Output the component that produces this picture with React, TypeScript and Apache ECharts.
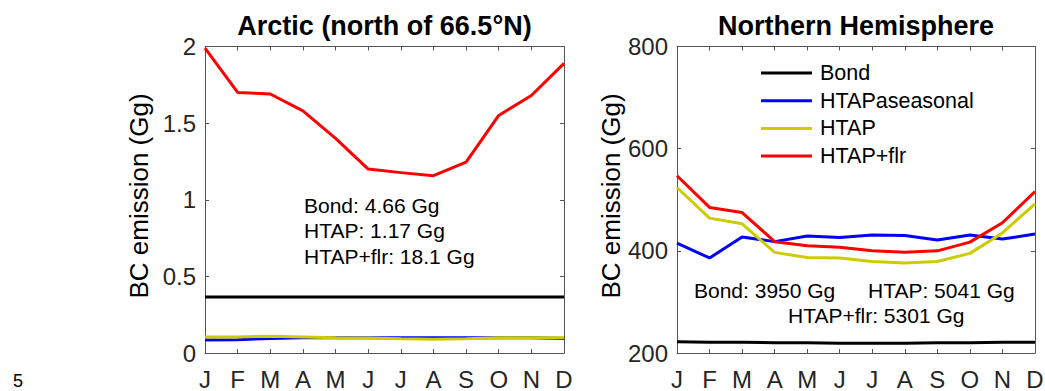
import React, { useEffect, useRef } from 'react';
import * as echarts from 'echarts';

const months = ['J', 'F', 'M', 'A', 'M', 'J', 'J', 'A', 'S', 'O', 'N', 'D'];
const seriesNames = ['Bond', 'HTAPaseasonal', 'HTAP', 'HTAP+flr'];

// Arctic (north of 66.5°N), Gg
const arcticBond = [0.365, 0.365, 0.365, 0.365, 0.365, 0.365, 0.365, 0.365, 0.365, 0.365, 0.365, 0.365];
const arcticAseasonal = [0.085, 0.087, 0.095, 0.1, 0.1, 0.1, 0.1, 0.1, 0.1, 0.1, 0.1, 0.095];
const arcticHtap = [0.105, 0.105, 0.11, 0.105, 0.1, 0.098, 0.093, 0.09, 0.093, 0.1, 0.1, 0.1];
const arcticHtapFlr = [1.99, 1.7, 1.69, 1.58, 1.4, 1.2, 1.177, 1.157, 1.245, 1.55, 1.68, 1.89];

// Northern Hemisphere, Gg
const nhBond = [222, 221, 221, 220, 220, 219, 219, 219, 220, 220, 221, 221];
const nhAseasonal = [415, 386, 427, 418, 429, 426, 431, 430, 421, 431, 423, 433];
const nhHtap = [524, 464, 453, 397, 387, 386, 379, 376, 379, 395, 435, 492];
const nhHtapFlr = [547, 485, 475, 418, 410, 407, 400, 397, 400, 417, 455, 516];

const arcticTicks = { min: 0, max: 2, interval: 0.5 };
const nhTicks = { min: 200, max: 800, interval: 200 };

const arcticNotes = ['Bond: 4.66 Gg', 'HTAP: 1.17 Gg', 'HTAP+flr: 18.1 Gg'];
const nhNotes = ['Bond: 3950 Gg', 'HTAP: 5041 Gg', 'HTAP+flr: 5301 Gg'];

const colors = ['#000000', '#0000FF', '#CCCC00', '#FF0000'];
const FONT = '"Liberation Sans", Arial, Helvetica, sans-serif';
const axisColor = '#555555';
const tickColor = '#262626';

function xAxes(gridIndex: number) {
  const base = {
    type: 'category' as const,
    gridIndex,
    data: months,
    boundaryGap: false,
    splitLine: { show: false },
    axisLine: { show: true, onZero: false, lineStyle: { color: axisColor, width: 1 } },
    axisTick: { show: true, inside: true, length: 4, interval: 0, lineStyle: { color: axisColor } },
  };
  return [
    { ...base, position: 'bottom', axisLabel: { show: true, interval: 0, fontSize: 24, color: tickColor, margin: 14, fontFamily: FONT } },
    { ...base, position: 'top', axisLabel: { show: false } },
  ];
}

function yAxes(gridIndex: number, t: { min: number; max: number; interval: number }) {
  const base = {
    type: 'value' as const,
    gridIndex,
    min: t.min,
    max: t.max,
    interval: t.interval,
    splitLine: { show: false },
    axisLine: { show: true, onZero: false, lineStyle: { color: axisColor, width: 1 } },
    axisTick: { show: true, inside: true, length: 4, lineStyle: { color: axisColor } },
  };
  return [
    { ...base, position: 'left', axisLabel: { show: true, fontSize: 24, color: tickColor, margin: 9, fontFamily: FONT } },
    { ...base, position: 'right', axisLabel: { show: false } },
  ];
}

function lines(xi: number, yi: number, data: number[][]) {
  return data.map((d, i) => ({
    type: 'line' as const,
    name: seriesNames[i],
    xAxisIndex: xi,
    yAxisIndex: yi,
    data: d,
    symbol: 'none',
    color: colors[i],
    lineStyle: { color: colors[i], width: 3 },
    z: 2 + i,
  }));
}

function txt(text: string, x: number, y: number, fontSize: number, extra: any = {}) {
  return {
    type: 'text',
    x,
    y,
    ...extra,
    style: {
      text,
      fontSize,
      fontFamily: FONT,
      fill: '#000000',
      align: extra.align || 'left',
      verticalAlign: 'middle',
      fontWeight: extra.bold ? 'bold' : 'normal',
    },
  };
}

export default function App() {
  const ref = useRef<HTMLDivElement>(null);
  useEffect(() => {
    const chart = echarts.init(ref.current!, null, { renderer: 'svg' });
    const option: any = {
      animation: false,
      backgroundColor: '#ffffff',
      textStyle: { fontFamily: FONT },
      grid: [
        { left: 205, top: 46.5, width: 359, height: 306.5, outerBoundsMode: 'none' },
        { left: 677, top: 46.5, width: 358, height: 306.5, outerBoundsMode: 'none' },
      ],
      xAxis: [...xAxes(0), ...xAxes(1)],
      yAxis: [...yAxes(0, arcticTicks), ...yAxes(1, nhTicks)],
      legend: {
        data: seriesNames,
        orient: 'vertical',
        left: 756,
        top: 57,
        icon: 'rect',
        itemWidth: 51,
        itemHeight: 3,
        itemGap: 5.7,
        selectedMode: false,
        textStyle: { fontSize: 21.5, color: '#000000', fontFamily: FONT, lineHeight: 22, padding: [0, 0, 0, 3] },
      },
      series: [
        ...lines(0, 0, [arcticBond, arcticAseasonal, arcticHtap, arcticHtapFlr]),
        ...lines(2, 2, [nhBond, nhAseasonal, nhHtap, nhHtapFlr]),
      ],
      graphic: [
        txt('Arctic (north of 66.5°N)', 384.5, 26, 27, { align: 'center', bold: true }),
        txt('Northern Hemisphere', 856, 26, 27, { align: 'center', bold: true }),
        txt('BC emission (Gg)', 139, 196, 26, { align: 'center', rotation: Math.PI / 2 }),
        txt('BC emission (Gg)', 611, 196, 26, { align: 'center', rotation: Math.PI / 2 }),
        txt(arcticNotes[0], 304, 205, 21),
        txt(arcticNotes[1], 304, 230.5, 21),
        txt(arcticNotes[2], 304, 256, 21),
        txt(nhNotes[0], 694, 290, 21),
        txt(nhNotes[1], 868, 290, 21),
        txt(nhNotes[2], 788, 315.5, 21),
        txt('5', 13, 381, 18),
      ],
    };
    chart.setOption(option);
    return () => chart.dispose();
  }, []);
  return <div ref={ref} style={{ position: 'absolute', left: 0, top: 0, width: 1045, height: 391 }} />;
}
